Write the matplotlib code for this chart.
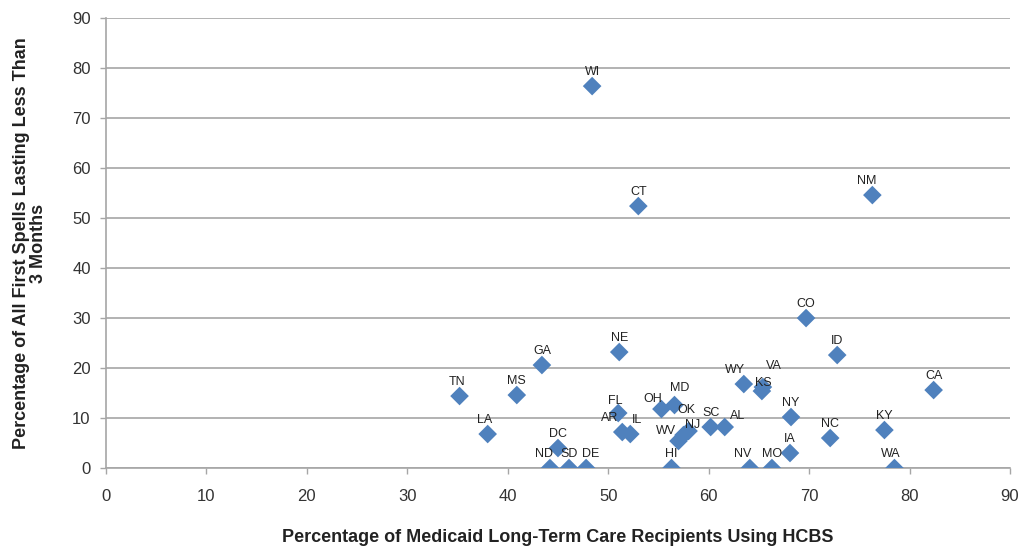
import matplotlib.pyplot as plt

plt.rcParams['font.family'] = ['Liberation Sans', 'DejaVu Sans']

# data
states = ['WI', 'CT', 'NM', 'CO', 'ID', 'CA', 'NE', 'GA', 'TN', 'MS', 'LA',
          'FL', 'AR', 'IL', 'OH', 'MD', 'OK', 'WV', 'NJ', 'SC', 'AL', 'WY',
          'VA', 'KS', 'NY', 'NC', 'KY', 'IA', 'NV', 'MO', 'WA', 'DC', 'ND',
          'SD', 'DE', 'HI']
hcbs_pct = [48.4, 53.0, 76.3, 69.7, 72.8, 82.4, 51.1, 43.4, 35.2, 40.9, 38.0,
            51.0, 51.4, 52.2, 55.3, 56.6, 57.5, 57.0, 58.0, 60.2, 61.6, 63.5,
            65.4, 65.3, 68.2, 72.1, 77.5, 68.1, 64.1, 66.3, 78.5, 45.0, 44.2,
            46.1, 47.8, 56.3]
short_spell_pct = [76.4, 52.4, 54.6, 30.0, 22.6, 15.6, 23.2, 20.6, 14.4, 14.6, 6.8,
                   11.0, 7.2, 6.8, 11.8, 12.6, 6.6, 5.4, 7.4, 8.2, 8.2, 16.8,
                   16.2, 15.4, 10.2, 6.0, 7.6, 3.0, 0.0, 0.0, 0.0, 4.0, 0.0,
                   0.0, 0.0, 0.0]

# label nudges in points (dx, dy); default is centred just above the marker
nudge = {'AR': (-9, 10), 'IL': (5, 10), 'OH': (-6, 7), 'MD': (4, 12),
         'OK': (2, 18), 'WV': (-9, 7), 'NJ': (3, 4), 'AL': (9, 8),
         'WY': (-6, 10), 'VA': (8, 15), 'KS': (1, 6), 'NV': (-5, 10),
         'ND': (-4, 10), 'DE': (3, 10), 'NM': (-4, 10), 'TN': (-2, 10),
         'LA': (-2, 10), 'WA': (-3, 10), 'FL': (-2, 9)}

fig = plt.figure(figsize=(10.24, 5.49), dpi=100)
ax = fig.add_axes([0.1035, 0.1475, 0.8828, 0.8195])

ax.scatter(hcbs_pct, short_spell_pct, marker='D', s=90, color='#4F81BD',
           edgecolors='none', zorder=3)

for st, x, y in zip(states, hcbs_pct, short_spell_pct):
    dx, dy = nudge.get(st, (0, 10))
    ax.annotate(st, (x, y), xytext=(dx, dy), textcoords='offset points',
                ha='center', va='center', fontsize=9, color='#222222', zorder=4)

ax.set_xlim(0, 90)
ax.set_ylim(0, 90)
ax.set_xticks(range(0, 91, 10))
ax.set_yticks(range(0, 91, 10))
ax.yaxis.grid(True, color='#a6a6a6', linewidth=1.2)
ax.set_axisbelow(True)
for side in ['top', 'right']:
    ax.spines[side].set_visible(False)
for side in ['left', 'bottom']:
    ax.spines[side].set_color('#a6a6a6')
    ax.spines[side].set_linewidth(1.2)
ax.tick_params(axis='both', colors='#a6a6a6', labelcolor='#333333',
               labelsize=12, length=4, width=1)
ax.tick_params(axis='x', pad=11)
ax.tick_params(axis='y', pad=7)

ax.set_xlabel('Percentage of Medicaid Long-Term Care Recipients Using HCBS',
              fontsize=13, fontweight='bold', color='#222222', labelpad=18)
ax.set_ylabel('Percentage of All First Spells Lasting Less Than\n3 Months',
              fontsize=13, fontweight='bold', color='#222222', labelpad=18,
              linespacing=1.0)

fig.savefig('out.png', dpi=100)
